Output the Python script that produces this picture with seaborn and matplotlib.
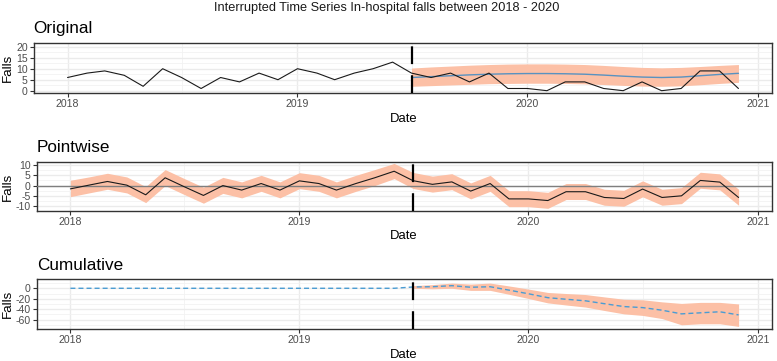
import numpy as np
import pandas as pd
import matplotlib
matplotlib.use("Agg")
import matplotlib.pyplot as plt
import matplotlib.dates as mdates
import seaborn as sns

# ---------------- data ----------------
months = pd.date_range("2018-01-01", "2020-12-01", freq="MS")
intervention = pd.Timestamp("2019-07-01")
post_months = months[18:]

observed = [6, 8, 9, 7, 2, 10, 6, 1, 6, 4, 8, 5,
            10, 8, 5, 8, 10, 13, 8, 6, 8, 4, 8, 1,
            1, 0, 4, 4, 1, 0, 4, 0, 1, 9, 9, 1]

pred_mean = [6.0, 6.4, 6.8, 7.2, 7.5, 7.7, 7.8, 7.8, 7.7, 7.5, 7.1, 6.6,
             6.2, 6.0, 6.2, 6.8, 7.4, 7.9]
pred_lower = [2.0, 2.3, 2.6, 2.9, 3.2, 3.3, 3.4, 3.4, 3.3, 3.1, 2.8, 2.4,
              2.1, 2.0, 2.2, 2.7, 3.3, 3.8]
pred_upper = [10.3, 10.8, 11.2, 11.6, 11.9, 12.1, 12.2, 12.2, 12.1, 11.9, 11.5, 11.0,
              10.6, 10.4, 10.6, 11.0, 11.5, 11.9]

point_effect = [-1.6, 0.3, 2.0, 0.2, -4.5, 3.8, -0.5, -4.8, 0.0, -2.2, 1.0, -2.2,
                2.3, 1.0, -2.2, 1.0, 3.8, 7.0, 2.4, 0.6, 1.8, -2.7, 1.0, -6.5,
                -6.5, -7.3, -3.0, -3.0, -5.8, -6.3, -1.7, -5.8, -5.0, 2.5, 1.7, -5.8]
point_lower = [-5.4, -3.5, -1.8, -3.6, -8.3, 0.0, -4.3, -8.6, -3.8, -6.0, -2.8, -6.0,
               -1.5, -2.8, -6.0, -2.8, 0.0, 3.4, -1.4, -3.2, -2.0, -6.5, -2.8, -10.3,
               -10.3, -11.1, -6.8, -6.8, -9.6, -10.1, -5.5, -9.6, -8.8, -1.3, -2.1, -9.6]
point_upper = [2.6, 4.3, 6.0, 4.2, -0.5, 7.8, 3.5, -0.8, 4.0, 1.8, 5.0, 1.8,
               6.3, 5.0, 1.8, 5.0, 7.8, 10.8, 6.4, 4.6, 5.8, 1.3, 5.0, -2.5,
               -2.5, -3.3, 1.0, 1.0, -1.8, -2.3, 2.3, -1.8, -1.0, 6.5, 5.7, -1.8]

cum_effect = [0, 0, 0, 0, 0, 0, 0, 0, 0, 0, 0, 0, 0, 0, 0, 0, 0, 0,
              2.5, 3.0, 5.0, 2.0, 3.0, -3.5, -10.5, -18.0, -21.0, -24.0, -29.5, -35.0,
              -37.0, -42.0, -49.0, -47.0, -45.0, -51.0]
cum_lower = [0.0, -1.0, 0.0, -4.0, -4.0, -11.5, -19.5, -28.0, -32.0, -36.0, -42.5, -49.0,
             -52.0, -58.0, -70.0, -68.0, -68.0, -73.0]
cum_upper = [5.0, 7.0, 10.0, 8.0, 10.0, 4.5, -1.5, -8.0, -10.0, -12.0, -16.5, -21.0,
             -22.0, -26.0, -29.0, -27.0, -27.0, -30.0]

year_ticks = ["2018-01-01", "2019-01-01", "2020-01-01", "2021-01-01"]
year_labels = ["2018", "2019", "2020", "2021"]

# ---------------- style ----------------
sns.set_theme(style="white")
plt.rcParams["font.family"] = ["Liberation Sans", "DejaVu Sans"]

BAND = "#FCC0A6"
BLUE = "#5892C0"
CUMBLUE = "#4A9CD3"

W, H = 777, 361
fig = plt.figure(figsize=(W / 100, H / 100), dpi=100)


def add_ax(l, t, r, b):
    return fig.add_axes([l / W, 1 - b / H, (r - l) / W, (b - t) / H])


x0 = mdates.date2num(months[0])
x1 = mdates.date2num(months[-1])
span = x1 - x0
xlim = (x0 - 0.05 * span, x1 + 0.05 * span)
maj = [mdates.date2num(pd.Timestamp(d)) for d in year_ticks]
mid = [mdates.date2num(pd.Timestamp(d)) for d in ["2018-07-01", "2019-07-01", "2020-07-01"]]


def style(ax, ylim, yticks, yminor):
    ax.set_xlim(*xlim)
    ax.set_ylim(*ylim)
    ax.set_xticks(maj)
    ax.set_xticklabels(year_labels)
    ax.set_xticks(mid, minor=True)
    ax.set_yticks(yticks)
    ax.set_yticklabels([str(v) for v in yticks])
    ax.set_yticks(yminor, minor=True)
    ax.grid(which="major", color="#EBEBEB", lw=1.0)
    ax.grid(which="minor", color="#F2F2F2", lw=0.6)
    ax.set_axisbelow(True)
    ax.tick_params(which="minor", length=0)
    ax.tick_params(which="major", length=3, width=0.8, color="#333333",
                   labelcolor="#4D4D4D", labelsize=7.6, pad=1.5,
                   bottom=True, left=True)
    for s in ax.spines.values():
        s.set_color("#333333")
        s.set_linewidth(1.0)
    ax.set_xlabel("")
    ax.set_ylabel("")


def vline(ax):
    ax.axvline(mdates.date2num(intervention), color="black", lw=1.6,
               dashes=(8, 5), zorder=5)


# Panel 1: Original
ax1 = add_ax(34, 43, 772, 93)
ax1.fill_between(post_months, pred_lower, pred_upper, color=BAND, lw=0, zorder=2)
sns.lineplot(x=post_months, y=pred_mean, ax=ax1, color=BLUE, lw=1.0, zorder=3)
sns.lineplot(x=months, y=observed, ax=ax1, color="#1a1a1a", lw=0.8, zorder=4)
style(ax1, (-1.05, 21.7), [0, 5, 10, 15, 20], [2.5, 7.5, 12.5, 17.5])
vline(ax1)

# Panel 2: Pointwise
ax2 = add_ax(37, 162, 772, 211)
ax2.fill_between(months, point_lower, point_upper, color=BAND, lw=0, zorder=2)
ax2.axhline(0, color="#7F7F7F", lw=1.0, zorder=3)
sns.lineplot(x=months, y=point_effect, ax=ax2, color="#1a1a1a", lw=0.8, zorder=4)
style(ax2, (-12.4, 11.5), [-10, -5, 0, 5, 10], [-7.5, -2.5, 2.5, 7.5])
vline(ax2)

# Panel 3: Cumulative
ax3 = add_ax(37, 279, 772, 329)
ax3.fill_between(post_months, cum_lower, cum_upper, color=BAND, lw=0, zorder=2)
sns.lineplot(x=months, y=cum_effect, ax=ax3, color=CUMBLUE, lw=1.0,
             linestyle=(0, (3.6, 2.2)), zorder=4)
style(ax3, (-78, 17.8), [-60, -40, -20, 0], [-70, -50, -30, -10, 10])
vline(ax3)

# Texts
fig.text(386.5 / W, 1 - 7.5 / H,
         "Interrupted Time Series In-hospital falls between 2018 - 2020",
         ha="center", va="center", fontsize=9.2, color="#1a1a1a")

for txt, x, yb in [("Original", 33, 33.3), ("Pointwise", 37, 151.7), ("Cumulative", 37, 270)]:
    fig.text(x / W, 1 - yb / H, txt, ha="left", va="baseline", fontsize=12.3, color="black")

for yc in [68, 186.5, 304]:
    fig.text(7.5 / W, 1 - yc / H, "Falls", rotation=90, ha="center", va="center",
             fontsize=9.6, color="black")

for yc in [119, 236, 355.5]:
    fig.text(404 / W, 1 - yc / H, "Date", ha="center", va="center",
             fontsize=9.4, color="black")

fig.savefig("out.png", dpi=100)
